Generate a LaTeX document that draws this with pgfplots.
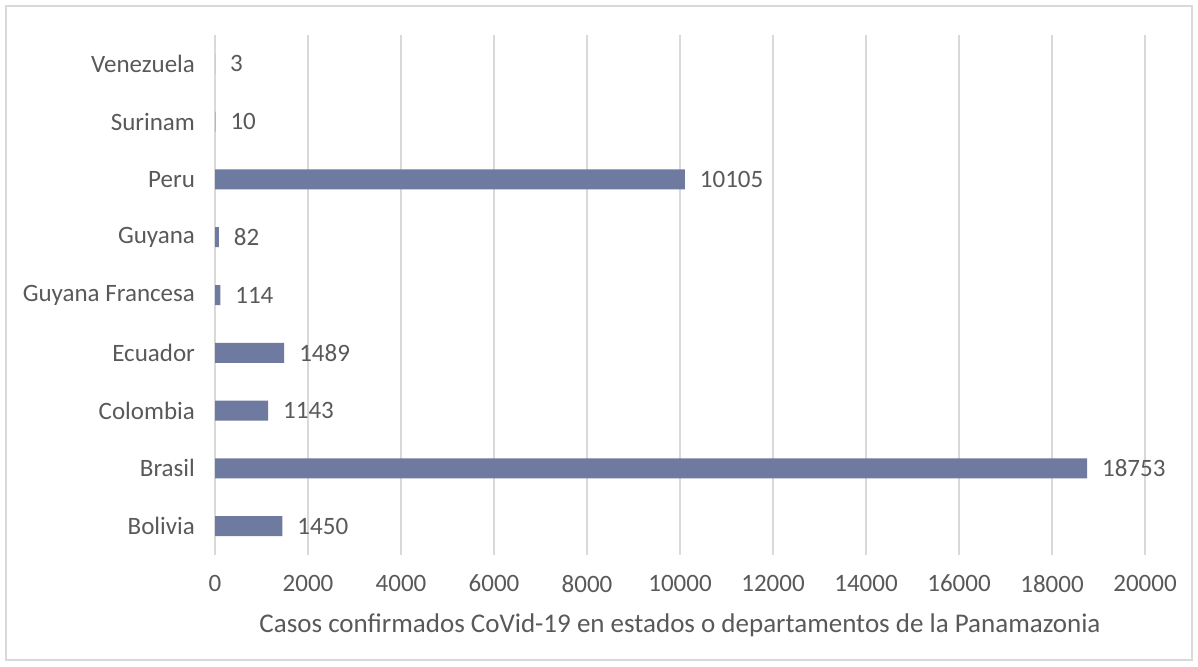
\documentclass[border=0pt]{standalone}
\usepackage{pgfplots}
\pgfplotsset{compat=1.18}
\usepackage{fontspec}
\setmainfont{Carlito}
\definecolor{barc}{HTML}{6F7AA0}
\definecolor{txt}{HTML}{595959}
\definecolor{gridc}{HTML}{D9D9D9}
\begin{document}
\begin{tikzpicture}[x=1pt,y=1pt]
\useasboundingbox (-107.5,-55.5) rectangle (491.5,277.5);
\draw[gridc, line width=0.75pt] (-104.5,-52.5) rectangle (488.5,274.5);
\begin{axis}[
  at={(0,0)}, anchor=south west,
  scale only axis, width=465pt, height=260pt,
  xbar, bar width=10pt,
  xmin=0, xmax=20000, ymin=-0.5, ymax=8.5,
  xtick={0,2000,...,20000},
  ytick={0,...,8},
  yticklabels={Bolivia,Brasil,Colombia,Ecuador,Guyana Francesa,Guyana,Peru,Surinam,Venezuela},
  xmajorgrids, grid style={gridc, line width=0.75pt},
  axis line style={draw=none},
  major tick length=0pt,
  /pgf/number format/assume math mode=true,
  /pgf/number format/1000 sep={},
  scaled x ticks=false,
  tick label style={font=\fontsize{12.5}{15}\selectfont, text=txt},
  xticklabel style={yshift=-6.5pt},
  yticklabel style={xshift=-6.5pt},
  nodes near coords,
  nodes near coords style={anchor=west, xshift=4pt, font=\fontsize{12.5}{15}\selectfont, text=txt},
  xlabel={Casos confirmados CoVid-19 en estados o departamentos de la Panamazonia},
  xlabel style={at={(axis description cs:0.5,0)}, anchor=base, yshift=-38.5pt, font=\fontsize{13.5}{16}\selectfont, text=txt},
]
\addplot[fill=barc, draw=none] coordinates {
(1450,0) (18753,1) (1143,2) (1489,3) (114,4) (82,5) (10105,6) (10,7) (3,8)
};
\end{axis}
\end{tikzpicture}
\end{document}
